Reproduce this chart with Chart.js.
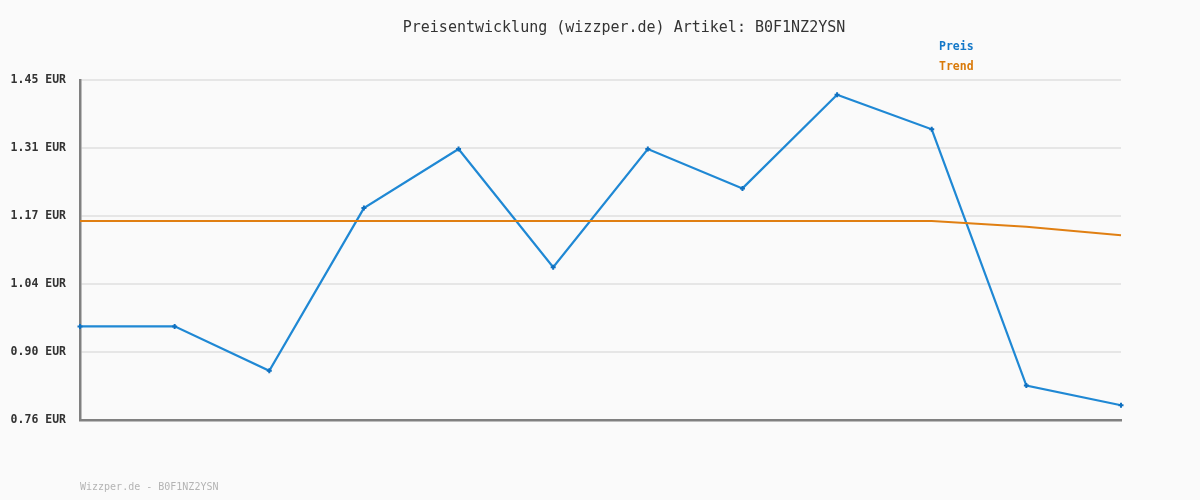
<!DOCTYPE html>
<html><head><meta charset="utf-8">
<script src="https://cdn.jsdelivr.net/npm/chart.js@4/dist/chart.umd.min.js"></script>
<style>html,body{margin:0;padding:0;background:#fafafa;}canvas{display:block;}</style>
</head><body>
<canvas id="c" width="1200" height="500"></canvas>
<script>
const categories = ['1','2','3','4','5','6','7','8','9','10','11','12'];
const preis = [0.95, 0.95, 0.86, 1.19, 1.31, 1.07, 1.31, 1.23, 1.42, 1.35, 0.83, 0.79];
const trend = [1.164, 1.164, 1.164, 1.164, 1.164, 1.164, 1.164, 1.164, 1.164, 1.164, 1.152, 1.135];
const yTicks = [0.76, 0.898, 1.036, 1.174, 1.312, 1.45];
const yTickLabels = ['0.76 EUR', '0.90 EUR', '1.04 EUR', '1.17 EUR', '1.31 EUR', '1.45 EUR'];
const titleText = 'Preisentwicklung (wizzper.de) Artikel: B0F1NZ2YSN';
const legendLabels = ['Preis', 'Trend'];
const footerText = 'Wizzper.de - B0F1NZ2YSN';

const MONO = '"DejaVu Sans Mono", "Liberation Mono", monospace';
const textPlugin = {
  id: 'texts',
  afterDraw(chart) {
    const ctx = chart.ctx;
    ctx.save();
    ctx.textBaseline = 'middle';
    ctx.fillStyle = '#333333';
    ctx.font = '15px ' + MONO;
    ctx.textAlign = 'center';
    ctx.fillText(titleText, 624, 28);
    ctx.textAlign = 'left';
    ctx.font = 'bold 11.5px ' + MONO;
    ctx.fillStyle = '#1478c8';
    ctx.fillText(legendLabels[0], 939, 47);
    ctx.fillStyle = '#d97a0a';
    ctx.fillText(legendLabels[1], 939, 67);
    ctx.font = '10px ' + MONO;
    ctx.fillStyle = '#b4b4b4';
    ctx.fillText(footerText, 80, 487);
    ctx.restore();
  }
};
const bgPlugin = {
  id: 'bg',
  beforeDraw(chart) {
    const ctx = chart.ctx;
    ctx.save();
    ctx.fillStyle = '#fafafa';
    ctx.fillRect(0, 0, chart.width, chart.height);
    ctx.restore();
  }
};

new Chart(document.getElementById('c'), {
  type: 'line',
  data: {
    labels: categories,
    datasets: [
      {
        label: legendLabels[1], data: trend, borderColor: '#e07f12', borderWidth: 2,
        pointRadius: 0, tension: 0, fill: false
      },
      {
        label: legendLabels[0], data: preis, borderColor: '#1f88d4', borderWidth: 2.2,
        pointStyle: 'cross', pointRadius: 2.5, pointBorderWidth: 2,
        pointBorderColor: '#0f70c0', tension: 0, fill: false
      }
    ]
  },
  options: {
    responsive: false,
    animation: false,
    layout: { padding: { top: 80, right: 79, bottom: 80, left: 0 } },
    plugins: { legend: { display: false }, title: { display: false }, tooltip: { enabled: false } },
    scales: {
      x: {
        offset: false,
        grid: { display: false, drawTicks: false },
        border: { display: true, color: '#808080', width: 2.5 },
        ticks: { display: false },
        afterFit(s) { s.height = 0; }
      },
      y: {
        min: 0.76, max: 1.45,
        afterBuildTicks(s) { s.ticks = yTicks.map(v => ({ value: v })); },
        afterFit(s) { s.width = 80; },
        grid: { color: '#e6e6e6', lineWidth: 2, drawTicks: false },
        border: { display: true, color: '#808080', width: 2.5 },
        ticks: {
          padding: 14,
          color: '#333333',
          font: { family: MONO, size: 11.5, weight: 'bold' },
          callback(v, i) { return yTickLabels[i]; }
        }
      }
    }
  },
  plugins: [bgPlugin, textPlugin]
});
</script>
</body></html>
